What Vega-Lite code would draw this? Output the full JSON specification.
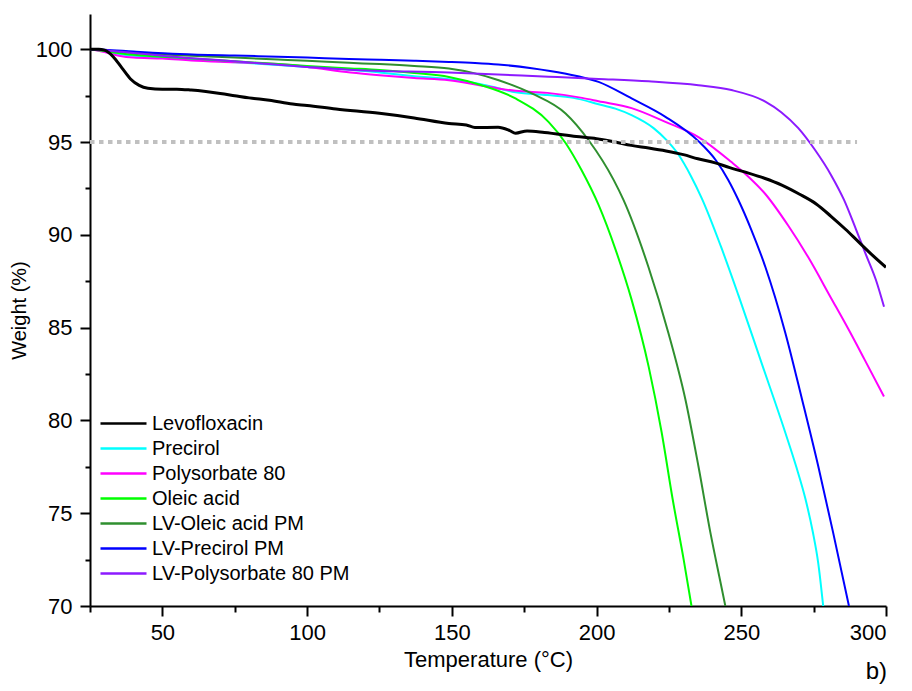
{
  "$schema": "https://vega.github.io/schema/vega-lite/v6.json",
  "width": 796,
  "height": 592,
  "autosize": "none",
  "padding": {"left": 90, "top": 14, "right": 26, "bottom": 85},
  "background": "white",
  "config": {
    "view": {"stroke": null},
    "font": "Liberation Sans",
    "axis": {"grid": false, "domainColor": "black", "domainWidth": 2, "tickColor": "black", "tickWidth": 2, "labelColor": "black", "titleColor": "black", "labelFont": "Liberation Sans", "titleFont": "Liberation Sans", "titleFontWeight": "normal"}
  },
  "title": {"text": "b)", "orient": "bottom", "anchor": "end", "fontSize": 24, "fontWeight": "normal", "font": "Liberation Sans", "color": "black", "offset": -10},
  "datasets": {
    "ref": [{"t1": 25, "t2": 290, "w": 95}],
    "tga": [
      {"s": "Levofloxacin", "t": 25, "w": 100}, {"s": "Levofloxacin", "t": 28, "w": 100}, {"s": "Levofloxacin", "t": 30, "w": 99.95}, {"s": "Levofloxacin", "t": 33, "w": 99.6}, {"s": "Levofloxacin", "t": 36, "w": 99.0}, {"s": "Levofloxacin", "t": 39, "w": 98.4}, {"s": "Levofloxacin", "t": 42, "w": 98.05}, {"s": "Levofloxacin", "t": 45, "w": 97.9}, {"s": "Levofloxacin", "t": 50, "w": 97.85}, {"s": "Levofloxacin", "t": 55, "w": 97.85}, {"s": "Levofloxacin", "t": 60, "w": 97.8}, {"s": "Levofloxacin", "t": 65, "w": 97.72}, {"s": "Levofloxacin", "t": 70, "w": 97.62}, {"s": "Levofloxacin", "t": 75, "w": 97.5}, {"s": "Levofloxacin", "t": 80, "w": 97.38}, {"s": "Levofloxacin", "t": 87, "w": 97.25}, {"s": "Levofloxacin", "t": 95, "w": 97.05}, {"s": "Levofloxacin", "t": 100, "w": 96.97}, {"s": "Levofloxacin", "t": 110, "w": 96.78}, {"s": "Levofloxacin", "t": 125, "w": 96.55}, {"s": "Levofloxacin", "t": 137, "w": 96.3}, {"s": "Levofloxacin", "t": 149, "w": 96.0}, {"s": "Levofloxacin", "t": 155, "w": 95.92}, {"s": "Levofloxacin", "t": 158, "w": 95.78}, {"s": "Levofloxacin", "t": 166, "w": 95.8}, {"s": "Levofloxacin", "t": 170, "w": 95.62}, {"s": "Levofloxacin", "t": 172, "w": 95.48}, {"s": "Levofloxacin", "t": 176, "w": 95.6}, {"s": "Levofloxacin", "t": 182, "w": 95.52}, {"s": "Levofloxacin", "t": 193, "w": 95.3}, {"s": "Levofloxacin", "t": 200, "w": 95.18}, {"s": "Levofloxacin", "t": 206, "w": 95.02}, {"s": "Levofloxacin", "t": 212, "w": 94.82}, {"s": "Levofloxacin", "t": 218, "w": 94.68}, {"s": "Levofloxacin", "t": 224, "w": 94.52}, {"s": "Levofloxacin", "t": 230, "w": 94.32}, {"s": "Levofloxacin", "t": 235, "w": 94.1}, {"s": "Levofloxacin", "t": 241, "w": 93.88}, {"s": "Levofloxacin", "t": 246, "w": 93.62}, {"s": "Levofloxacin", "t": 252, "w": 93.35}, {"s": "Levofloxacin", "t": 258, "w": 93.05}, {"s": "Levofloxacin", "t": 264, "w": 92.68}, {"s": "Levofloxacin", "t": 270, "w": 92.2}, {"s": "Levofloxacin", "t": 276, "w": 91.65}, {"s": "Levofloxacin", "t": 281, "w": 91.0}, {"s": "Levofloxacin", "t": 286, "w": 90.3}, {"s": "Levofloxacin", "t": 290, "w": 89.7}, {"s": "Levofloxacin", "t": 295, "w": 88.95}, {"s": "Levofloxacin", "t": 300, "w": 88.25},

      {"s": "Precirol", "t": 25, "w": 100}, {"s": "Precirol", "t": 30, "w": 99.9}, {"s": "Precirol", "t": 35, "w": 99.75}, {"s": "Precirol", "t": 40, "w": 99.65}, {"s": "Precirol", "t": 50, "w": 99.55}, {"s": "Precirol", "t": 60, "w": 99.45}, {"s": "Precirol", "t": 75, "w": 99.3}, {"s": "Precirol", "t": 90, "w": 99.15}, {"s": "Precirol", "t": 100, "w": 99.05}, {"s": "Precirol", "t": 115, "w": 98.9}, {"s": "Precirol", "t": 125, "w": 98.75}, {"s": "Precirol", "t": 137, "w": 98.55}, {"s": "Precirol", "t": 149, "w": 98.38}, {"s": "Precirol", "t": 160, "w": 98.12}, {"s": "Precirol", "t": 166, "w": 97.9}, {"s": "Precirol", "t": 172, "w": 97.68}, {"s": "Precirol", "t": 183, "w": 97.53}, {"s": "Precirol", "t": 192, "w": 97.38}, {"s": "Precirol", "t": 200.7, "w": 97.04}, {"s": "Precirol", "t": 206.5, "w": 96.8}, {"s": "Precirol", "t": 212.1, "w": 96.45}, {"s": "Precirol", "t": 219.7, "w": 95.75}, {"s": "Precirol", "t": 224.2, "w": 95.1}, {"s": "Precirol", "t": 228.4, "w": 94.3}, {"s": "Precirol", "t": 232.5, "w": 93.2}, {"s": "Precirol", "t": 236.4, "w": 91.95}, {"s": "Precirol", "t": 242.9, "w": 89.4}, {"s": "Precirol", "t": 249, "w": 86.75}, {"s": "Precirol", "t": 257, "w": 83.1}, {"s": "Precirol", "t": 265.2, "w": 79.35}, {"s": "Precirol", "t": 269, "w": 77.5}, {"s": "Precirol", "t": 272.2, "w": 75.75}, {"s": "Precirol", "t": 274.7, "w": 74.0}, {"s": "Precirol", "t": 276.6, "w": 72.3}, {"s": "Precirol", "t": 278.3, "w": 70},

      {"s": "Polysorbate 80", "t": 25, "w": 100}, {"s": "Polysorbate 80", "t": 30, "w": 99.85}, {"s": "Polysorbate 80", "t": 35, "w": 99.65}, {"s": "Polysorbate 80", "t": 40, "w": 99.55}, {"s": "Polysorbate 80", "t": 50, "w": 99.5}, {"s": "Polysorbate 80", "t": 60, "w": 99.4}, {"s": "Polysorbate 80", "t": 75, "w": 99.3}, {"s": "Polysorbate 80", "t": 90, "w": 99.2}, {"s": "Polysorbate 80", "t": 100, "w": 99.05}, {"s": "Polysorbate 80", "t": 115, "w": 98.75}, {"s": "Polysorbate 80", "t": 125, "w": 98.6}, {"s": "Polysorbate 80", "t": 137, "w": 98.45}, {"s": "Polysorbate 80", "t": 149, "w": 98.33}, {"s": "Polysorbate 80", "t": 160, "w": 98.05}, {"s": "Polysorbate 80", "t": 166, "w": 97.89}, {"s": "Polysorbate 80", "t": 172, "w": 97.76}, {"s": "Polysorbate 80", "t": 183, "w": 97.65}, {"s": "Polysorbate 80", "t": 195, "w": 97.38}, {"s": "Polysorbate 80", "t": 200.7, "w": 97.2}, {"s": "Polysorbate 80", "t": 212.1, "w": 96.83}, {"s": "Polysorbate 80", "t": 223.8, "w": 96.09}, {"s": "Polysorbate 80", "t": 235.2, "w": 95.27}, {"s": "Polysorbate 80", "t": 246.6, "w": 93.92}, {"s": "Polysorbate 80", "t": 252, "w": 93.2}, {"s": "Polysorbate 80", "t": 258.3, "w": 92.2}, {"s": "Polysorbate 80", "t": 266.2, "w": 90.5}, {"s": "Polysorbate 80", "t": 273.1, "w": 88.8}, {"s": "Polysorbate 80", "t": 281, "w": 86.6}, {"s": "Polysorbate 80", "t": 286.9, "w": 84.95}, {"s": "Polysorbate 80", "t": 292.7, "w": 83.25}, {"s": "Polysorbate 80", "t": 299.3, "w": 81.29},

      {"s": "Oleic acid", "t": 25, "w": 100}, {"s": "Oleic acid", "t": 30, "w": 99.9}, {"s": "Oleic acid", "t": 40, "w": 99.7}, {"s": "Oleic acid", "t": 50, "w": 99.6}, {"s": "Oleic acid", "t": 60, "w": 99.5}, {"s": "Oleic acid", "t": 75, "w": 99.35}, {"s": "Oleic acid", "t": 90, "w": 99.2}, {"s": "Oleic acid", "t": 100, "w": 99.1}, {"s": "Oleic acid", "t": 115, "w": 98.97}, {"s": "Oleic acid", "t": 125, "w": 98.88}, {"s": "Oleic acid", "t": 137, "w": 98.72}, {"s": "Oleic acid", "t": 149, "w": 98.51}, {"s": "Oleic acid", "t": 160.3, "w": 98.06}, {"s": "Oleic acid", "t": 172, "w": 97.35}, {"s": "Oleic acid", "t": 183.4, "w": 96.09}, {"s": "Oleic acid", "t": 189.3, "w": 94.95}, {"s": "Oleic acid", "t": 194.8, "w": 93.49}, {"s": "Oleic acid", "t": 200.7, "w": 91.61}, {"s": "Oleic acid", "t": 206.6, "w": 89.19}, {"s": "Oleic acid", "t": 212.1, "w": 86.51}, {"s": "Oleic acid", "t": 218, "w": 82.9}, {"s": "Oleic acid", "t": 222.5, "w": 79.35}, {"s": "Oleic acid", "t": 226.3, "w": 75.75}, {"s": "Oleic acid", "t": 230.1, "w": 72.5}, {"s": "Oleic acid", "t": 232.8, "w": 70},

      {"s": "LV-Oleic acid PM", "t": 25, "w": 100}, {"s": "LV-Oleic acid PM", "t": 30, "w": 99.95}, {"s": "LV-Oleic acid PM", "t": 40, "w": 99.8}, {"s": "LV-Oleic acid PM", "t": 50, "w": 99.72}, {"s": "LV-Oleic acid PM", "t": 60, "w": 99.65}, {"s": "LV-Oleic acid PM", "t": 75, "w": 99.55}, {"s": "LV-Oleic acid PM", "t": 90, "w": 99.45}, {"s": "LV-Oleic acid PM", "t": 100, "w": 99.38}, {"s": "LV-Oleic acid PM", "t": 114.5, "w": 99.27}, {"s": "LV-Oleic acid PM", "t": 125, "w": 99.2}, {"s": "LV-Oleic acid PM", "t": 137, "w": 99.1}, {"s": "LV-Oleic acid PM", "t": 149, "w": 98.96}, {"s": "LV-Oleic acid PM", "t": 158, "w": 98.7}, {"s": "LV-Oleic acid PM", "t": 166.2, "w": 98.33}, {"s": "LV-Oleic acid PM", "t": 177.6, "w": 97.62}, {"s": "LV-Oleic acid PM", "t": 189.3, "w": 96.54}, {"s": "LV-Oleic acid PM", "t": 197.2, "w": 95.11}, {"s": "LV-Oleic acid PM", "t": 205.9, "w": 92.96}, {"s": "LV-Oleic acid PM", "t": 209.3, "w": 91.88}, {"s": "LV-Oleic acid PM", "t": 217.9, "w": 88.28}, {"s": "LV-Oleic acid PM", "t": 224.8, "w": 84.73}, {"s": "LV-Oleic acid PM", "t": 230.7, "w": 81.13}, {"s": "LV-Oleic acid PM", "t": 235.2, "w": 77.53}, {"s": "LV-Oleic acid PM", "t": 239.3, "w": 73.98}, {"s": "LV-Oleic acid PM", "t": 242.8, "w": 71.29}, {"s": "LV-Oleic acid PM", "t": 244.5, "w": 70},

      {"s": "LV-Precirol PM", "t": 25, "w": 100}, {"s": "LV-Precirol PM", "t": 30, "w": 99.97}, {"s": "LV-Precirol PM", "t": 40, "w": 99.88}, {"s": "LV-Precirol PM", "t": 56, "w": 99.75}, {"s": "LV-Precirol PM", "t": 75, "w": 99.66}, {"s": "LV-Precirol PM", "t": 90, "w": 99.6}, {"s": "LV-Precirol PM", "t": 100, "w": 99.55}, {"s": "LV-Precirol PM", "t": 114.5, "w": 99.47}, {"s": "LV-Precirol PM", "t": 125, "w": 99.43}, {"s": "LV-Precirol PM", "t": 137, "w": 99.38}, {"s": "LV-Precirol PM", "t": 149, "w": 99.32}, {"s": "LV-Precirol PM", "t": 158, "w": 99.26}, {"s": "LV-Precirol PM", "t": 166, "w": 99.18}, {"s": "LV-Precirol PM", "t": 177.6, "w": 98.98}, {"s": "LV-Precirol PM", "t": 189, "w": 98.69}, {"s": "LV-Precirol PM", "t": 200.7, "w": 98.24}, {"s": "LV-Precirol PM", "t": 212.1, "w": 97.35}, {"s": "LV-Precirol PM", "t": 223.8, "w": 96.36}, {"s": "LV-Precirol PM", "t": 235.2, "w": 95.05}, {"s": "LV-Precirol PM", "t": 241.4, "w": 93.98}, {"s": "LV-Precirol PM", "t": 245.5, "w": 92.96}, {"s": "LV-Precirol PM", "t": 249, "w": 91.88}, {"s": "LV-Precirol PM", "t": 253.4, "w": 90.3}, {"s": "LV-Precirol PM", "t": 258.3, "w": 88.28}, {"s": "LV-Precirol PM", "t": 265.2, "w": 84.73}, {"s": "LV-Precirol PM", "t": 271, "w": 81.13}, {"s": "LV-Precirol PM", "t": 276.6, "w": 77.53}, {"s": "LV-Precirol PM", "t": 281.7, "w": 73.98}, {"s": "LV-Precirol PM", "t": 287.2, "w": 70},

      {"s": "LV-Polysorbate 80 PM", "t": 25, "w": 100}, {"s": "LV-Polysorbate 80 PM", "t": 30, "w": 99.95}, {"s": "LV-Polysorbate 80 PM", "t": 40, "w": 99.8}, {"s": "LV-Polysorbate 80 PM", "t": 50, "w": 99.65}, {"s": "LV-Polysorbate 80 PM", "t": 75, "w": 99.35}, {"s": "LV-Polysorbate 80 PM", "t": 100, "w": 99.05}, {"s": "LV-Polysorbate 80 PM", "t": 114.5, "w": 98.9}, {"s": "LV-Polysorbate 80 PM", "t": 149, "w": 98.75}, {"s": "LV-Polysorbate 80 PM", "t": 183.4, "w": 98.52}, {"s": "LV-Polysorbate 80 PM", "t": 200.7, "w": 98.4}, {"s": "LV-Polysorbate 80 PM", "t": 218, "w": 98.27}, {"s": "LV-Polysorbate 80 PM", "t": 235.2, "w": 98.06}, {"s": "LV-Polysorbate 80 PM", "t": 246.6, "w": 97.8}, {"s": "LV-Polysorbate 80 PM", "t": 258.3, "w": 97.18}, {"s": "LV-Polysorbate 80 PM", "t": 263.8, "w": 96.61}, {"s": "LV-Polysorbate 80 PM", "t": 269.7, "w": 95.75}, {"s": "LV-Polysorbate 80 PM", "t": 275.5, "w": 94.57}, {"s": "LV-Polysorbate 80 PM", "t": 281, "w": 93.23}, {"s": "LV-Polysorbate 80 PM", "t": 285.5, "w": 91.88}, {"s": "LV-Polysorbate 80 PM", "t": 289.7, "w": 90.27}, {"s": "LV-Polysorbate 80 PM", "t": 293.1, "w": 88.92}, {"s": "LV-Polysorbate 80 PM", "t": 296.5, "w": 87.58}, {"s": "LV-Polysorbate 80 PM", "t": 299.3, "w": 86.13}
    ]
  },
  "layer": [
    {
      "data": {"name": "tga"},
      "transform": [{"filter": "datum.s !== 'Levofloxacin'"}],
      "mark": {"type": "line", "clip": true, "interpolate": "monotone", "strokeWidth": 2},
      "encoding": {
        "x": {"field": "t", "type": "quantitative", "scale": {"domain": [25, 300], "nice": false, "zero": false},
              "axis": {"orient": "bottom", "values": [50, 100, 150, 200, 250, 300], "tickSize": 10, "labelFontSize": 22, "labelPadding": 6, "title": "Temperature (°C)", "titleFontSize": 22, "titlePadding": 6}},
        "y": {"field": "w", "type": "quantitative", "scale": {"domain": [70, 101.9], "nice": false, "zero": false},
              "axis": {"orient": "left", "values": [70, 75, 80, 85, 90, 95, 100], "tickSize": 10, "labelFontSize": 22, "labelPadding": 8, "title": "Weight (%)", "titleFontSize": 20, "titlePadding": 6}},
        "color": {"field": "s", "type": "nominal",
                  "scale": {"domain": ["Levofloxacin", "Precirol", "Polysorbate 80", "Oleic acid", "LV-Oleic acid PM", "LV-Precirol PM", "LV-Polysorbate 80 PM"],
                            "range": ["#000000", "#00FFFF", "#FF00FF", "#00FF00", "#2F8F2F", "#0000FF", "#8C1AFF"]},
                  "legend": {"orient": "bottom-left", "offset": 22, "padding": 0, "title": null, "labelFont": "Liberation Sans", "labelFontSize": 20, "labelColor": "black", "labelLimit": 400, "symbolType": "M-2.3,0H2.3", "symbolSize": 400, "symbolStrokeWidth": 2.5, "labelOffset": 17, "rowPadding": 3}},
        "order": {"field": "t", "type": "quantitative"}
      }
    },
    {
      "data": {"name": "tga"},
      "transform": [{"filter": "datum.s === 'Levofloxacin'"}],
      "mark": {"type": "line", "clip": true, "interpolate": "monotone", "strokeWidth": 3},
      "encoding": {
        "x": {"field": "t", "type": "quantitative", "axis": null},
        "y": {"field": "w", "type": "quantitative", "axis": null},
        "color": {"field": "s", "type": "nominal"},
        "order": {"field": "t", "type": "quantitative"}
      }
    },
    {
      "data": {"name": "ref"},
      "mark": {"type": "rule", "color": "#C0C0C0", "strokeWidth": 4, "strokeDash": [4.5, 4.5]},
      "encoding": {
        "x": {"field": "t1", "type": "quantitative", "axis": {"orient": "bottom", "values": [25, 75, 125, 175, 225, 275], "tickSize": 6, "labels": false, "domain": false, "title": null}},
        "x2": {"field": "t2"},
        "y": {"field": "w", "type": "quantitative", "axis": {"orient": "left", "values": [72.5, 77.5, 82.5, 87.5, 92.5, 97.5], "tickSize": 5, "labels": false, "domain": false, "title": null}}
      }
    }
  ],
  "resolve": {"axis": {"x": "independent", "y": "independent"}}
}
